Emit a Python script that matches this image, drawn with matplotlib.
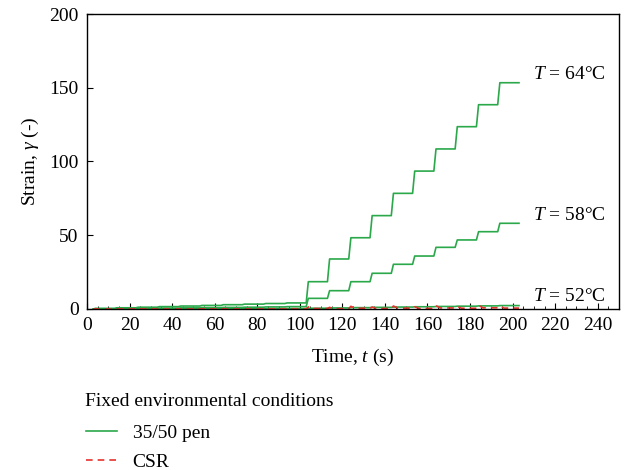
import matplotlib
matplotlib.use("Agg")
import matplotlib.pyplot as plt
from matplotlib.lines import Line2D
from matplotlib.ticker import MultipleLocator

# =============================
# Dados (ensaio MSCR, 20 ciclos de 10 s)
# =============================

# início de cada ciclo de fluência (s)
inicio_ciclos = [3, 13, 23, 33, 43, 53, 63, 73, 83, 93,
                 103, 113, 123, 133, 143, 153, 163, 173, 183, 193]

# deformação acumulada no fim de cada ciclo, 35/50 pen
pen_64 = [0.4, 0.8, 1.2, 1.6, 2.0, 2.4, 2.9, 3.3, 3.7, 4.1,
          18.5, 33.9, 48.3, 63.3, 78.4, 93.5, 108.5, 123.6, 138.5, 153.4]
pen_58 = [0.15, 0.3, 0.45, 0.6, 0.75, 0.9, 1.05, 1.2, 1.4, 1.6,
          7.2, 12.4, 18.5, 24.2, 30.3, 35.9, 41.8, 46.8, 52.4, 58.1]
pen_52 = [0.03, 0.06, 0.09, 0.12, 0.15, 0.18, 0.21, 0.24, 0.27, 0.3,
          0.5, 0.7, 0.9, 1.1, 1.3, 1.5, 1.7, 1.9, 2.1, 2.3]

# CSR: pico de fluência e deformação residual por ciclo
csr_pico = [0.1, 0.1, 0.1, 0.1, 0.1, 0.1, 0.1, 0.1, 0.1, 0.1,
            1.4, 1.1, 1.8, 1.3, 2.0, 1.5, 2.2, 1.7, 2.5, 1.9]
csr_resid = [0.0, 0.0, 0.0, 0.0, 0.0, 0.0, 0.0, 0.0, 0.0, 0.0,
             0.3, 0.2, 0.5, 0.3, 0.6, 0.4, 0.7, 0.5, 0.8, 0.6]

rotulos_temp = ["$T$ = 64°C", "$T$ = 58°C", "$T$ = 52°C"]
pos_rotulos = [(226.5, 159), (226.5, 63.5), (226.5, 8.5)]

plt.rcParams["font.family"] = "Liberation Serif"
plt.rcParams["mathtext.fontset"] = "custom"
plt.rcParams["mathtext.rm"] = "Liberation Serif"
plt.rcParams["mathtext.it"] = "Liberation Serif:italic"

VERDE = "#2aa84a"
VERMELHO = "#e5322d"
FS = 14


def curva_degraus(niveis):
    """Monta a curva de fluência-recuperação (subida de 1 s, patamar de 9 s)."""
    t, g = [inicio_ciclos[0]], [0.0]
    for t0, nivel in zip(inicio_ciclos, niveis):
        t += [t0 + 1, t0 + 10]
        g += [nivel, nivel]
    return t, g


def curva_csr(picos, resid):
    t, g = [inicio_ciclos[0]], [0.0]
    for t0, p, r in zip(inicio_ciclos, picos, resid):
        t += [t0 + 1, t0 + 3, t0 + 10]
        g += [p, r, r]
    return t, g


fig = plt.figure(figsize=(6.24, 4.70), dpi=100)
ax = fig.add_axes([0.1394, 0.3426, 0.8526, 0.6276])

for niveis in (pen_64, pen_58, pen_52):
    t, g = curva_degraus(niveis)
    ax.plot(t, g, color=VERDE, lw=1.2)

t, g = curva_csr(csr_pico, csr_resid)
ax.plot(t, g, color=VERMELHO, lw=1.2, ls=(0, (4, 3)))

for texto, (x, y) in zip(rotulos_temp, pos_rotulos):
    ax.text(x, y, texto, ha="center", va="center", fontsize=FS)

ax.set_xlim(0, 250)
ax.set_ylim(0, 200)
ax.xaxis.set_major_locator(MultipleLocator(20))
ax.xaxis.set_minor_locator(MultipleLocator(5))
ax.yaxis.set_major_locator(MultipleLocator(50))
ax.tick_params(direction="in", labelsize=FS, length=4, width=0.8)
ax.tick_params(axis="x", pad=6)
ax.tick_params(axis="y", pad=6)
ax.tick_params(which="minor", direction="in", length=2.5, width=0.6)
ax.set_xlabel("Time, $t$ (s)", fontsize=FS, labelpad=9)
ax.set_ylabel("Strain, $\\gamma$ (-)", fontsize=FS, labelpad=6)
for s in ax.spines.values():
    s.set_linewidth(1.0)

# legenda abaixo do gráfico, título à parte
fig.text(0.137, 1 - 402 / 470, "Fixed environmental conditions",
         fontsize=FS, ha="left", va="center")
handles = [Line2D([], [], color=VERDE, lw=1.2),
           Line2D([], [], color=VERMELHO, lw=1.2, ls=(0, (4, 3)))]
leg = fig.legend(handles, ["35/50 pen", "CSR"], loc="upper left",
                 bbox_to_anchor=(86 / 624, 1 - 424 / 470), frameon=False,
                 fontsize=FS, handlelength=1.6, labelspacing=0.6,
                 borderpad=0, borderaxespad=0)

fig.savefig("out.png", dpi=100)
